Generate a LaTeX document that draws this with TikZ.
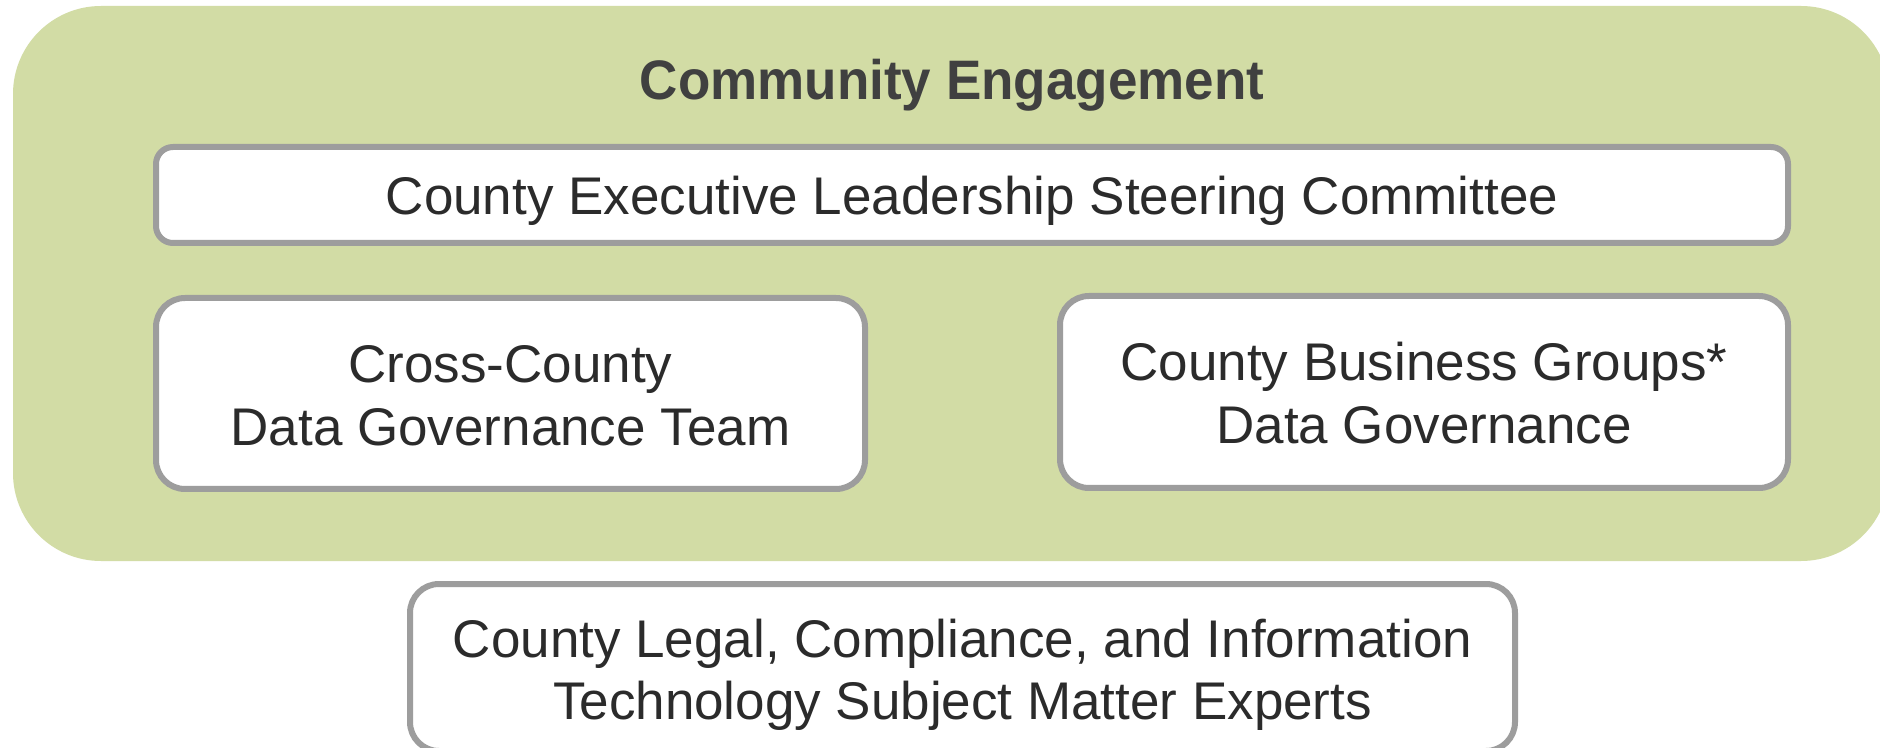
\documentclass[tikz,border=0pt]{standalone}
\usepackage{fontspec}
\setmainfont{Liberation Sans}
\definecolor{engage}{HTML}{D2DCA5}
\definecolor{boxline}{HTML}{9D9D9D}
\definecolor{txt}{HTML}{2B2B2B}
\definecolor{ttl}{HTML}{404040}
\begin{document}
\begin{tikzpicture}[x=0.5pt,y=-0.5pt,
  panel/.style={draw=boxline, line width=3pt, fill=white, inner sep=0pt, outer sep=0pt},
  linetxt/.style={anchor=base, inner sep=0pt, text=txt, font=\fontsize{26.5}{31.5}\selectfont},
  titletxt/.style={anchor=base, inner sep=0pt, text=ttl, font=\fontsize{26.5}{32}\selectfont\bfseries, yscale=1.05}]
\useasboundingbox (0,0) rectangle (1880,748);
\clip (0,0) rectangle (1880,748);
\fill[white] (0,0) rectangle (1880,748);
% community engagement area
\fill[engage, rounded corners=44pt] (13,6) rectangle (1889,561);
\node[titletxt] (title) at (952,100) {Community Engagement};
% boxes
\node[panel, rounded corners=8.5pt, minimum width=816pt, minimum height=48pt] (steer) at (972,195) {};
\node[panel, rounded corners=14.5pt, minimum width=354.5pt, minimum height=95.5pt] (cross) at (510.5,393.5) {};
\node[panel, rounded corners=14.5pt, minimum width=364pt, minimum height=96pt] (business) at (1424,392) {};
\node[panel, rounded corners=14.5pt, minimum width=552.5pt, minimum height=83.5pt] (experts) at (962.5,667.5) {};
% texts
\node[linetxt] (steerA) at (972,215) {County Executive Leadership Steering Committee};
\node[linetxt] (crossA) at (510.5,383) {Cross-County};
\node[linetxt] (crossB) at (510.5,446) {Data Governance Team};
\node[linetxt] (busA) at (1424,381) {County Business Groups*};
\node[linetxt] (busB) at (1424,444) {Data Governance};
\node[linetxt] (expA) at (962.5,657) {County Legal, Compliance, and Information};
\node[linetxt] (expB) at (962.5,719) {Technology Subject Matter Experts};
\end{tikzpicture}
\end{document}
